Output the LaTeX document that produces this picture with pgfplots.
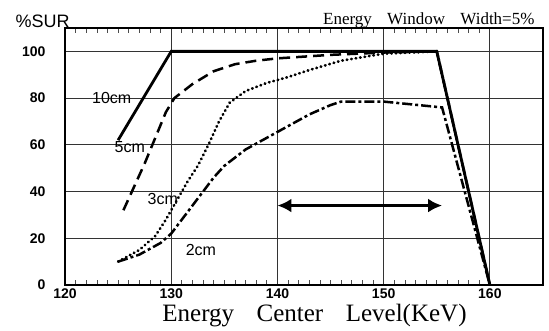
\documentclass[border=0pt]{standalone}
\usepackage{fontspec}
\setmainfont{Liberation Serif}
\setsansfont{Liberation Sans}
\usepackage{pgfplots}
\pgfplotsset{compat=1.18}
\usetikzlibrary{arrows.meta}
\begin{document}
\begin{tikzpicture}
\begin{axis}[
 scale only axis, width=478pt, height=257pt,
 xmin=120, xmax=165, ymin=0, ymax=110,
 xtick={120,130,140,150,160}, ytick={0,20,40,60,80,100},
 minor x tick num=9,
 xtick pos=both, ytick pos=left,
 grid=major, major grid style={black!80, line width=0.9pt},
 axis line style={black, line width=1.2pt},
 major tick length=0pt, minor tick length=5pt,
 minor tick style={black!70, line width=0.7pt},
 /pgf/number format/assume math mode=true,
 ticklabel style={font=\sffamily\bfseries\fontsize{14}{14}\selectfont},
 yticklabel shift=16pt,
 xlabel={Energy\hspace{0.9em}Center\hspace{0.9em}Level(KeV)},
 xlabel style={font=\fontsize{25}{25}\selectfont, at={(axis description cs:0.522,0)}, anchor=base, yshift=-37pt},
 clip=false,
]
\coordinate (O) at (rel axis cs:0,0);
% 10cm
\addplot[black, line width=2.8pt] coordinates {(125,62) (130,100) (155,100) (160,0)};
% 5cm
\addplot[black, line width=2.5pt, dash pattern=on 11pt off 6pt] coordinates {
(125.5,32) (126.5,42) (127.5,52) (128.5,63) (129.5,74) (130.3,80) (132,86) (134,91.5) (136,94.5) (138,96) (140,97) (145,98.5) (150,99.5) (155,100) (160,0)};
% 3cm
\addplot[black, line width=2.8pt, line cap=round, dash pattern=on 0.5pt off 4pt] coordinates {
(125,10) (127,15) (128.5,21) (129.5,28) (130.5,36) (131.5,44) (132.5,51) (133.5,60) (134.5,70) (135.5,78) (137,83) (139,86.5) (141,89) (143,92) (146,96) (150,99) (155,100) (160,0)};
% 2cm
\addplot[black, line width=2.5pt, dash pattern=on 10pt off 3pt on 3pt off 3pt] coordinates {
(125,10) (127,13) (129,18) (130,22) (131,28) (132,34) (133,40) (134,46) (135,51) (137,58) (139,63) (141,68) (143,73) (145,77) (146,78.5) (150,78.5) (155.5,76) (160,0)};
% arrow
\addplot[black, line width=3.8pt, {Latex[length=14pt,width=14pt]}-{Latex[length=14pt,width=14pt]}] coordinates {(140,34) (155.5,34)};
\node[font=\sffamily\fontsize{16}{16}\selectfont] at (axis cs:124.4,80) {10cm};
\node[font=\sffamily\fontsize{16}{16}\selectfont] at (axis cs:126.1,59) {5cm};
\node[font=\sffamily\fontsize{16}{16}\selectfont] at (axis cs:129.2,37) {3cm};
\node[font=\sffamily\fontsize{16}{16}\selectfont] at (axis cs:132.8,15) {2cm};
\node[font=\fontsize{17}{17}\selectfont, anchor=base east] at ([xshift=-5pt, yshift=3pt]rel axis cs:1,1) {Energy\hspace{0.9em}Window\hspace{0.9em}Width=5\%};
\node[font=\sffamily\fontsize{18}{18}\selectfont, anchor=base west] at ([xshift=-53pt, yshift=0pt]rel axis cs:0,1) {\%SUR};
\end{axis}
\pgfresetboundingbox
\path (O) ++(-65pt,-46pt) rectangle ++(549pt,331pt);
\end{tikzpicture}
\end{document}
